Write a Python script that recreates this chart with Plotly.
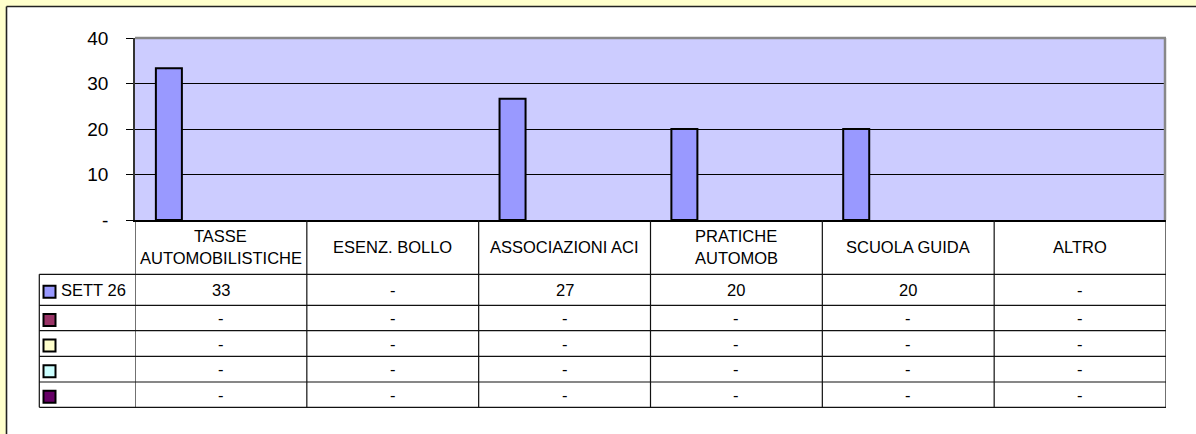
import plotly.graph_objects as go

# ---------------- data ----------------
categories = ["TASSE AUTOMOBILISTICHE", "ESENZ. BOLLO", "ASSOCIAZIONI ACI",
              "PRATICHE AUTOMOB", "SCUOLA GUIDA", "ALTRO"]
header_labels = ["TASSE<br>AUTOMOBILISTICHE", "ESENZ. BOLLO", "ASSOCIAZIONI ACI",
                 "PRATICHE<br>AUTOMOB", "SCUOLA GUIDA", "ALTRO"]
series_names = ["SETT 26", "", "", "", ""]
sett26 = [33.33, None, 26.67, 20.0, 20.0, None]
series2 = [None] * 6
series3 = [None] * 6
series4 = [None] * 6
series5 = [None] * 6
all_series = [sett26, series2, series3, series4, series5]
series_colors = ["#9999FF", "#993366", "#FFFFCC", "#CCFFFF", "#660066"]
y_tickvals = [0, 10, 20, 30, 40]
y_ticktext = ["-", "10", "20", "30", "40"]

# ---------------- layout geometry (pixels) ----------------
W, H = 1196, 434
L, R, T, B = 135, 1166, 38, 220
FONT = "Arial, Liberation Sans, sans-serif"
TFS = 16.5


def fx(px):
    return (px - L) / (R - L)


def fy(py):
    return (B - py) / (B - T)


fig = go.Figure()
for vals, name, col in zip(all_series, series_names, series_colors):
    fig.add_trace(go.Bar(
        x=categories, y=vals, name=name,
        marker=dict(color=col, line=dict(color="black", width=2)),
        showlegend=False, hoverinfo="skip"))

shapes = []
# yellow outer frame strips
shapes.append(dict(type="rect", xref="paper", yref="paper", x0=fx(-5), x1=fx(6.5),
                   y0=fy(440), y1=fy(-5), fillcolor="#FFFFCC", line=dict(width=0), layer="below"))
shapes.append(dict(type="rect", xref="paper", yref="paper", x0=fx(-5), x1=fx(1200),
                   y0=fy(6.5), y1=fy(-5), fillcolor="#FFFFCC", line=dict(width=0), layer="below"))
shapes.append(dict(type="line", xref="paper", yref="paper", x0=fx(6.5), x1=fx(6.5),
                   y0=fy(440), y1=fy(6.5), line=dict(color="#222222", width=1.6)))
shapes.append(dict(type="line", xref="paper", yref="paper", x0=fx(6.5), x1=fx(1200),
                   y0=fy(6.5), y1=fy(6.5), line=dict(color="#222222", width=1.6)))

# plot area grey border (top / right)
shapes.append(dict(type="line", xref="paper", yref="paper", x0=0, x1=1, y0=1, y1=1,
                   line=dict(color="#888888", width=2.5)))
shapes.append(dict(type="line", xref="paper", yref="paper", x0=fx(R - 1), x1=fx(R - 1), y0=0, y1=1,
                   line=dict(color="#888888", width=2.5)))

# data table lines
row_lines = [274.3, 305.3, 330.7, 356.3, 382.0, 407.3]
table_left = 39.3
for i, ry in enumerate(row_lines):
    shapes.append(dict(type="line", xref="paper", yref="paper", x0=fx(table_left), x1=fx(R),
                       y0=fy(ry), y1=fy(ry), line=dict(color="#111111", width=1.2)))
shapes.append(dict(type="line", xref="paper", yref="paper", x0=fx(table_left), x1=fx(table_left),
                   y0=fy(row_lines[0]), y1=fy(row_lines[-1]), line=dict(color="#111111", width=1.2)))
for k in range(len(categories) + 1):
    xb = k - 0.5
    shapes.append(dict(type="line", xref="x", yref="paper", x0=xb, x1=xb,
                       y0=fy(B), y1=fy(row_lines[-1]), line=dict(color="#111111", width=1.2)))

annotations = []
# header labels
for cat, lab in zip(categories, header_labels):
    lines = lab.split("<br>")
    n = len(lines)
    for j, ln in enumerate(lines):
        cy = 247 + (j - (n - 1) / 2) * 22.7
        annotations.append(dict(x=cat, xref="x", y=fy(cy), yref="paper", text=ln,
                                showarrow=False, xanchor="center", yanchor="middle",
                                font=dict(family=FONT, size=TFS, color="black")))

# data rows
for r, (vals, name, col) in enumerate(zip(all_series, series_names, series_colors)):
    cy = (row_lines[r] + row_lines[r + 1]) / 2
    for cat, v in zip(categories, vals):
        txt = "-" if (v is None or round(v) == 0) else f"{round(v)}"
        annotations.append(dict(x=cat, xref="x", y=fy(cy), yref="paper", text=txt,
                                showarrow=False, xanchor="center", yanchor="middle",
                                font=dict(family=FONT, size=TFS, color="black")))
    # legend key
    sq_c = cy + 2
    shapes.append(dict(type="rect", xref="paper", yref="paper", x0=fx(43.5), x1=fx(55.5),
                       y0=fy(sq_c + 6), y1=fy(sq_c - 6), fillcolor=col,
                       line=dict(color="black", width=2)))
    if name:
        annotations.append(dict(x=fx(59), xref="paper", y=fy(cy), yref="paper", text=name,
                                showarrow=False, xanchor="left", yanchor="middle",
                                font=dict(family=FONT, size=TFS, color="black")))

fig.update_layout(
    width=W, height=H,
    margin=dict(l=L, r=W - R, t=T, b=H - B, pad=0),
    paper_bgcolor="white", plot_bgcolor="#CCCCFF",
    barmode="group", bargap=0.243, bargroupgap=0,
    shapes=shapes, annotations=annotations,
    xaxis=dict(type="category", range=[-0.5, 5.5], showticklabels=False, ticks="",
               showgrid=False, zeroline=False, showline=True, linecolor="black", linewidth=2,
               fixedrange=True),
    yaxis=dict(range=[0, 40], tickvals=y_tickvals, ticktext=y_ticktext,
               ticks="outside", ticklen=7, tickcolor="black", tickwidth=1,
               ticklabelstandoff=14,
               tickfont=dict(family=FONT, size=19, color="black"),
               showgrid=True, gridcolor="black", gridwidth=1, zeroline=False,
               showline=True, linecolor="#333333", linewidth=1.5, fixedrange=True),
    font=dict(family=FONT, color="black"),
)

fig.write_html("out.html", config={"displayModeBar": False},
               post_script="document.body.style.margin='0';document.body.style.overflow='hidden';")
